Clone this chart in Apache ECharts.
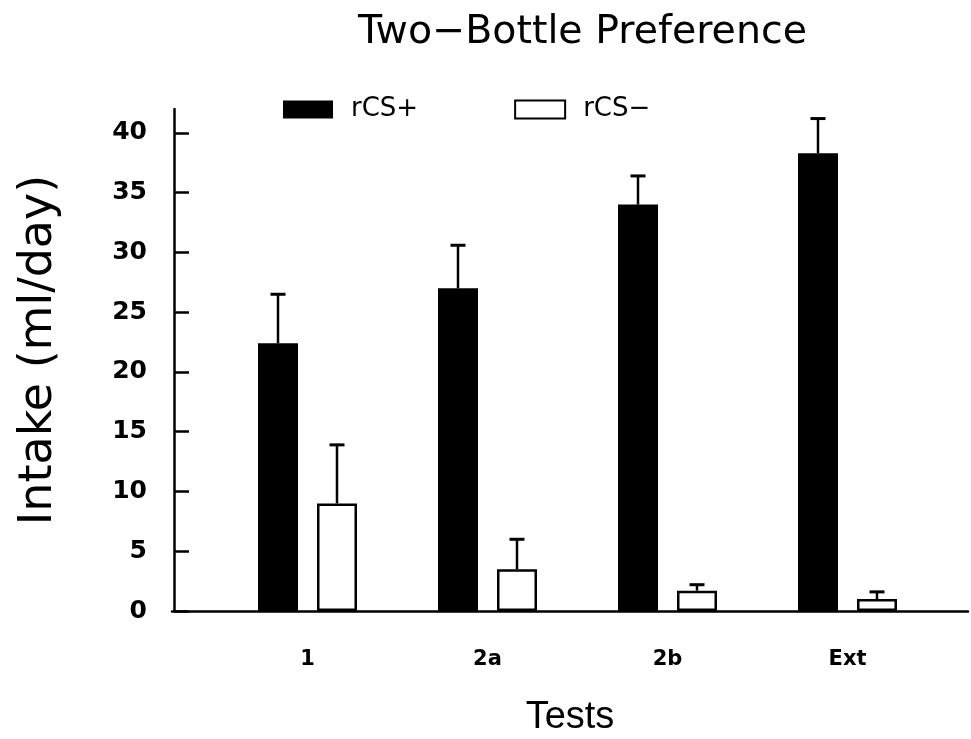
<!DOCTYPE html>
<html>
<head>
<meta charset="utf-8">
<script src="https://cdn.jsdelivr.net/npm/echarts@6/dist/echarts.min.js"></script>
<style>html,body{margin:0;padding:0;background:#fff}#c{width:971px;height:739px}</style>
</head>
<body>
<div id="c"></div>
<script>
var categories = ['1', '2a', '2b', 'Ext'];
var rcsPlus = [22.4, 27.0, 34.0, 38.3];
var rcsPlusErr = [4.1, 3.6, 2.4, 2.9];
var rcsMinus = [9.0, 3.5, 1.7, 1.0];
var rcsMinusErr = [4.9, 2.5, 0.5, 0.6];
var yTicks = [0, 5, 10, 15, 20, 25, 30, 35, 40];
var seriesNames = ['rCS+', 'rCS\u2212'];

var BAR_W = 40, GAP_PX = 19;
var fDejaVu = '"DejaVu Sans",sans-serif';
var fLib = '"Liberation Sans",sans-serif';

function errSeries(means, errs, sign) {
  return {
    type: 'custom',
    xAxisIndex: 0, yAxisIndex: 0,
    silent: true,
    z: 5,
    data: means.map(function (m, i) { return [i, m, m + errs[i]]; }),
    renderItem: function (params, api) {
      var base = api.coord([api.value(0), api.value(1)]);
      var top = api.coord([api.value(0), api.value(2)]);
      var x = base[0] + sign * (BAR_W + GAP_PX) / 2;
      var cap = 7.5;
      return {
        type: 'group',
        children: [
          { type: 'line', shape: { x1: x, y1: base[1], x2: x, y2: top[1] }, style: { stroke: '#000', lineWidth: 2.5 } },
          { type: 'line', shape: { x1: x - cap, y1: top[1], x2: x + cap, y2: top[1] }, style: { stroke: '#000', lineWidth: 3 } }
        ]
      };
    }
  };
}

var chart = echarts.init(document.getElementById('c'));
chart.setOption({
  animation: false,
  backgroundColor: '#fff',
  title: {
    text: 'Two\u2212Bottle Preference',
    left: 353, top: 8,
    textStyle: { fontFamily: fDejaVu, fontWeight: 'normal', fontSize: 39.5, color: '#000' }
  },
  legend: {
    left: 278, top: 91.5,
    itemWidth: 50, itemHeight: 18, itemGap: 96,
    icon: 'rect',
    textStyle: { fontFamily: fDejaVu, fontSize: 26, color: '#000', padding: [0, 0, 0, 13] },
    data: seriesNames
  },
  grid: [
    { left: 217.5, right: 971 - 937.5, top: 109, bottom: 128, outerBoundsMode: 'none' },
    { left: 172, right: 3, top: 109, bottom: 128, outerBoundsMode: 'none' }
  ],
  xAxis: [
    {
      type: 'category', gridIndex: 0, data: categories,
      axisLine: { show: false }, axisTick: { show: false },
      axisLabel: { margin: 38, fontFamily: fDejaVu, fontWeight: 'bold', fontSize: 21, color: '#000' }
    },
    {
      type: 'value', gridIndex: 1, min: 0, max: 1,
      axisLine: { show: true, lineStyle: { color: '#000', width: 2.5 } },
      axisTick: { show: false }, axisLabel: { show: false }, splitLine: { show: false },
      name: 'Tests', nameLocation: 'middle', nameGap: 88,
      nameTextStyle: { fontFamily: fLib, fontSize: 38, color: '#000', verticalAlign: 'top' }
    }
  ],
  yAxis: [
    {
      type: 'value', gridIndex: 0, min: 0, max: 42, offset: 43.5,
      axisLine: { show: true, lineStyle: { color: '#000', width: 2.5 } },
      axisTick: { show: true, inside: true, length: 15, customValues: yTicks, lineStyle: { color: '#000', width: 2.5 } },
      axisLabel: { customValues: yTicks, margin: 27, fontFamily: fDejaVu, fontWeight: 'bold', fontSize: 25, color: '#000' },
      splitLine: { show: false },
      name: 'Intake (ml/day)', nameLocation: 'middle', nameGap: 112,
      nameTextStyle: { fontFamily: fDejaVu, fontSize: 46, color: '#000', padding: [0, 0, 0, 20] }
    },
    { type: 'value', gridIndex: 1, min: 0, max: 1, show: false }
  ],
  series: [
    {
      name: seriesNames[0], type: 'bar', data: rcsPlus,
      barWidth: BAR_W, barGap: (GAP_PX / BAR_W * 100) + '%',
      itemStyle: { color: '#000', borderColor: '#000', borderWidth: 0 }
    },
    {
      name: seriesNames[1], type: 'bar', data: rcsMinus,
      barWidth: BAR_W,
      itemStyle: { color: '#fff', borderColor: '#000', borderWidth: 2.5 }
    },
    errSeries(rcsPlus, rcsPlusErr, -1),
    errSeries(rcsMinus, rcsMinusErr, 1)
  ]
});
</script>
</body>
</html>
